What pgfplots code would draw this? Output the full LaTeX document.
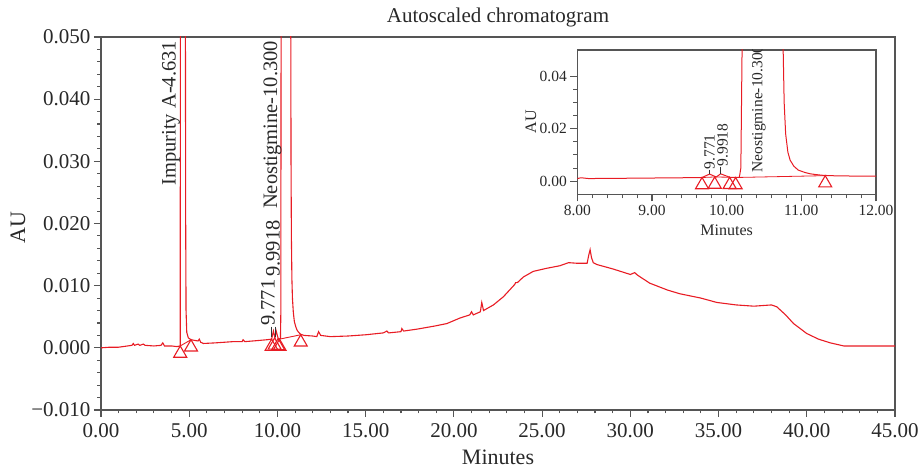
\documentclass[border=0pt]{standalone}
\usepackage{fontspec}
\setmainfont{Liberation Serif}
\usepackage{pgfplots}
\pgfplotsset{compat=1.18}
\usepackage{pgfplotstable}
\definecolor{curve}{RGB}{232,28,36}
\definecolor{axgray}{RGB}{85,85,85}
\definecolor{txt}{RGB}{40,40,40}

\pgfplotstableread{
t y
0.0 0.0000
0.5 0.0001
1.0 0.0001
1.5 0.0003
1.75 0.0004
1.83 0.0007
1.9 0.0004
2.1 0.0006
2.2 0.0004
2.4 0.0006
2.5 0.0004
3.0 0.0003
3.4 0.0004
3.5 0.0008
3.6 0.0003
4.0 0.0003
4.3 0.0002
4.49 0.0003
4.50 0.06
4.63 0.3
4.78 0.06
4.80 0.02
4.82 0.006
4.86 0.0025
4.95 0.0016
5.1 0.0013
5.3 0.0012
5.5 0.0011
5.57 0.0014
5.65 0.0009
5.8 0.0007
6.5 0.0008
7.5 0.0010
8.0 0.0010
8.05 0.0013
8.15 0.0010
8.6 0.0011
9.0 0.0012
9.4 0.0013
9.67 0.0014
9.771 0.0027
9.86 0.0016
9.92 0.0028
10.04 0.0015
10.12 0.0014
10.17 0.0015
10.19 0.005
10.21 0.06
10.30 0.5
10.75 0.06
10.77 0.03
10.79 0.018
10.82 0.011
10.85 0.008
10.9 0.0057
10.96 0.0042
11.05 0.0033
11.12 0.0028
11.2 0.0025
11.3 0.0022
11.5 0.0020
12.0 0.0019
12.23 0.0018
12.33 0.0026
12.45 0.0020
13.0 0.0018
14.0 0.0019
15.0 0.0021
16.0 0.0024
16.2 0.0027
16.3 0.0024
17.0 0.0026
17.05 0.0031
17.15 0.0027
17.9 0.0030
18.9 0.0035
19.6 0.0039
20.35 0.0048
20.9 0.0053
21.0 0.0058
21.1 0.0053
21.5 0.0058
21.58 0.0073
21.68 0.0060
22.24 0.0069
22.8 0.0082
23.45 0.0102
23.5 0.0105
23.6 0.0105
23.94 0.0114
24.5 0.0123
25.27 0.0128
26.0 0.0132
26.5 0.0137
27.0 0.0136
27.55 0.0136
27.65 0.0150
27.72 0.0158
27.8 0.0145
27.9 0.0137
28.1 0.0134
29.0 0.0127
30.0 0.0118
30.25 0.0121
30.4 0.0117
31.1 0.0104
32.1 0.0093
32.8 0.0087
34.0 0.0080
34.9 0.0073
36.0 0.0069
37.0 0.0067
38.0 0.0069
38.3 0.0066
38.8 0.0053
39.25 0.0039
40.0 0.0023
40.66 0.0014
41.33 0.0008
42.1 0.0003
43.0 0.0003
45.0 0.0003
}\chrom

\pgfplotstableread{
t y
4.49 0.0003
5.10 0.0013
9.67 0.0014
9.84 0.0016
10.04 0.0015
10.12 0.0014
11.32 0.0021
}\marks

\pgfplotsset{
  chromstyle/.style={
    axis line style={axgray, line width=1.3pt},
    every tick/.style={axgray, line width=1.1pt},
    tick align=outside,
    xtick pos=bottom, ytick pos=left,
    scaled x ticks=false, scaled y ticks=false,
    clip=true,
  },
}

\begin{document}
\begin{tikzpicture}
\useasboundingbox (0,0) rectangle (921pt,470pt);
\begin{axis}[chromstyle,
  at={(101pt,60pt)}, anchor=south west, scale only axis,
  width=794pt, height=373pt,
  xmin=0, xmax=45, ymin=-0.01, ymax=0.05,
  xtick={0,5,...,45},
  xticklabels={0.00,5.00,10.00,15.00,20.00,25.00,30.00,35.00,40.00,45.00},
  minor x tick num=4,
  ytick={-0.01,0,0.01,0.02,0.03,0.04,0.05},
  yticklabels={−0.010,0.000,0.010,0.020,0.030,0.040,0.050},
  minor y tick num=4,
  major tick length=7pt, minor tick length=3.5pt,
  ticklabel style={font=\fontsize{21}{25}\selectfont, text=txt},
  xticklabel style={yshift=-3pt},
]
\addplot[curve, line width=1.1pt, no marks] table[x=t,y=y]{\chrom};
\addplot[curve, line width=0.9pt, no marks] coordinates {(4.49,0.0003)(5.10,0.0013)};
\addplot[curve, line width=0.9pt, no marks] coordinates {(10.12,0.0014)(11.32,0.0021)};
\addplot[curve, only marks, mark=triangle, mark size=7.5pt,
  mark options={yshift=-7.5pt, line width=1.1pt, fill=none}] table[x=t,y=y]{\marks};
\draw[black!80, line width=0.8pt] (axis cs:9.66,0.0034) -- (axis cs:9.66,0.0017);
\draw[black!80, line width=0.8pt] (axis cs:9.86,0.0034) -- (axis cs:9.86,0.0017);
\node[rotate=90, anchor=east, inner sep=0pt, text=txt, font=\fontsize{20.5}{24}\selectfont] at (axis cs:3.97,0.0494) {Impurity A-4.631};
\node[rotate=90, anchor=east, inner sep=0pt, text=txt, font=\fontsize{20.5}{24}\selectfont] at (axis cs:9.72,0.0494) {Neostigmine-10.300};
\node[rotate=90, anchor=west, inner sep=0pt, text=txt, font=\fontsize{20.5}{24}\selectfont] at (axis cs:9.74,0.0114) {9.9918};
\node[rotate=90, anchor=west, inner sep=0pt, text=txt, font=\fontsize{20.5}{24}\selectfont] at (axis cs:9.47,0.0035) {9.771};
\end{axis}

\begin{axis}[chromstyle,
  at={(577.3pt,275.7pt)}, anchor=south west, scale only axis,
  width=298.7pt, height=144.3pt,
  xmin=8, xmax=12, ymin=-0.005, ymax=0.05,
  xtick={8,9,10,11,12},
  xticklabels={8.00,9.00,10.00,11.00,12.00},
  minor x tick num=4,
  ytick={0,0.02,0.04},
  yticklabels={0.00,0.02,0.04},
  minor y tick num=3,
  major tick length=7pt, minor tick length=4pt,
  ticklabel style={font=\fontsize{15.5}{18}\selectfont, text=txt},
]
\addplot[curve, line width=1.0pt, no marks] table[x=t,y=y]{\chrom};
\addplot[curve, line width=0.8pt, no marks] coordinates {(10.12,0.0014)(11.32,0.0021)};
\addplot[curve, line width=0.8pt, no marks] coordinates {(9.67,0.0014)(9.84,0.0016)(10.04,0.0015)};
\addplot[curve, only marks, mark=triangle, mark size=7.5pt,
  mark options={yshift=-7.5pt, line width=1.1pt, fill=none}] table[x=t,y=y]{\marks};
\draw[black!80, line width=0.8pt] (axis cs:9.77,0.0044) -- (axis cs:9.77,0.0026);
\draw[black!80, line width=0.8pt] (axis cs:9.92,0.0055) -- (axis cs:9.92,0.0028);
\node[rotate=90, anchor=west, inner sep=0pt, text=txt, font=\fontsize{15.5}{18}\selectfont] at (axis cs:9.77,0.0045) {9.771};
\node[rotate=90, anchor=west, inner sep=0pt, text=txt, font=\fontsize{15.5}{18}\selectfont] at (axis cs:9.945,0.0056) {9.9918};
\node[rotate=90, anchor=west, inner sep=0pt, text=txt, font=\fontsize{15.5}{18}\selectfont] at (axis cs:10.43,0.0033) {Neostigmine-10.300};
\end{axis}

\node[text=txt, font=\fontsize{21}{25}\selectfont] at (498pt,453pt) {Autoscaled chromatogram};
\node[text=txt, rotate=90, font=\fontsize{22}{26}\selectfont] at (18pt,242pt) {AU};
\node[text=txt, font=\fontsize{22}{26}\selectfont, anchor=base] at (498pt,5pt) {Minutes};
\node[text=txt, rotate=90, font=\fontsize{16}{19}\selectfont] at (531pt,348pt) {AU};
\node[text=txt, font=\fontsize{16}{19}\selectfont] at (726.7pt,240pt) {Minutes};
\end{tikzpicture}
\end{document}
